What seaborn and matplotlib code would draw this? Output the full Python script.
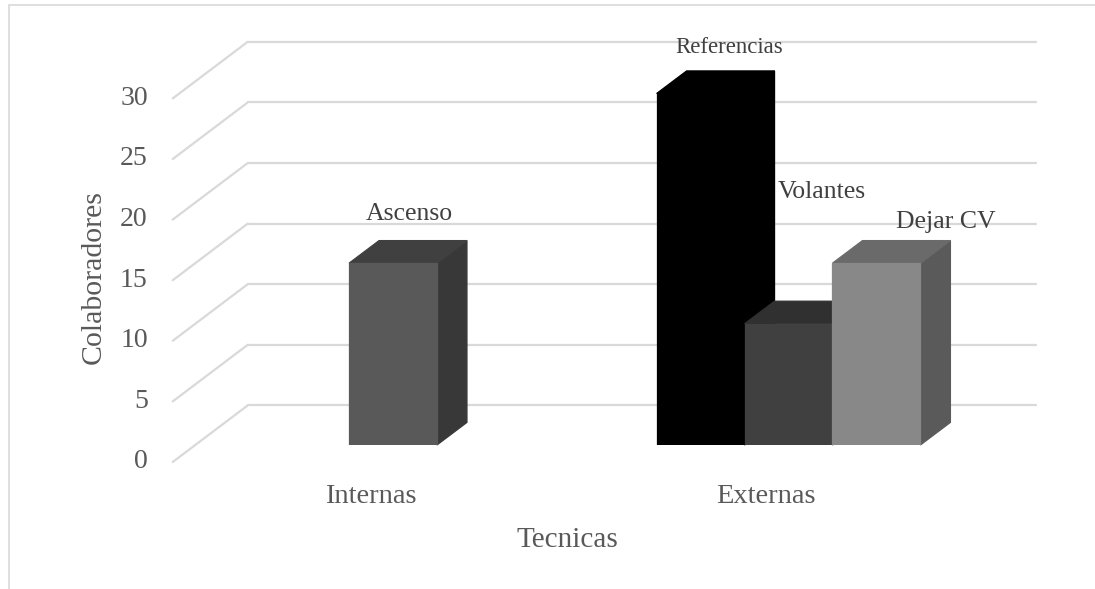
import numpy as np
import pandas as pd
import seaborn as sns
import matplotlib.pyplot as plt
from matplotlib.patches import Polygon, Rectangle
from matplotlib.lines import Line2D

# ---- data -------------------------------------------------------------
tecnicas = ["Internas", "Externas"]
serie_tecnica = ["Internas", "Externas", "Externas", "Externas"]
serie_num = [2, 1, 2, 3]
etiquetas = ["Ascenso", "Referencias", "Volantes", "Dejar CV"]
valores = [15, 29, 10, 15]
y_ticks = [0, 5, 10, 15, 20, 25, 30]

# face shades per bar: front, top, side
color_frente = {"Ascenso": "#595959", "Referencias": "#000000",
                "Volantes": "#404040", "Dejar CV": "#888888"}
color_techo = {"Ascenso": "#404040", "Referencias": "#000000",
               "Volantes": "#303030", "Dejar CV": "#6a6a6a"}
color_lado = {"Ascenso": "#383838", "Referencias": "#000000",
              "Volantes": "#2c2c2c", "Dejar CV": "#5a5a5a"}

df = pd.DataFrame({"Tecnica": serie_tecnica, "Serie": serie_num,
                   "Etiqueta": etiquetas, "Colaboradores": valores})

# ---- style ------------------------------------------------------------
sns.set_theme(style="white")
plt.rcParams["font.family"] = ["Liberation Serif", "DejaVu Serif"]
TXT = "#595959"
GRID = "#d9d9d9"

DPI = 100
fig = plt.figure(figsize=(10.95, 5.89), dpi=DPI)
fig.patch.set_facecolor("white")

# axes = front plane of the bars
ax = fig.add_axes([0.1783, 0.2445, 0.7224, 0.6173])
ax.set_facecolor("none")

series = [1, 2, 3]
sns.barplot(data=df, x="Tecnica", y="Colaboradores", hue="Serie",
            order=tecnicas, hue_order=series, palette=["#000000"] * 3,
            width=0.667, errorbar=None, saturation=1, linewidth=0,
            legend=False, ax=ax)

ax.set_xlim(-0.5, 1.5)
ax.set_ylim(0, 30)
for s in ax.spines.values():
    s.set_visible(False)
ax.set_xticks([])
ax.set_yticks([])

# pseudo-3D offsets in pixels (x right, y up)
DEPTH = (30.0, 22.6)      # bar front -> bar back
FRONT = (-22.5, -17.0)    # bar front -> floor front edge
BACK = (52.5, 39.6)       # bar front -> back wall
WALL_TRIM = -3.0          # back wall ends a little short on the right


def shift(x, y, d):
    disp = ax.transData.transform((x, y)) + np.array(d)
    return ax.transData.inverted().transform(disp)


# back wall gridlines and floor diagonals
x_left, x_right = ax.get_xlim()
for v in y_ticks:
    p0 = shift(x_left, v, BACK)
    p1 = shift(x_right, v, (BACK[0] + WALL_TRIM, BACK[1]))
    pf = shift(x_left, v, FRONT)
    ax.add_line(Line2D([p0[0], p1[0]], [p0[1], p1[1]], color=GRID,
                       lw=1.6, zorder=0.5, clip_on=False))
    ax.add_line(Line2D([pf[0], p0[0]], [pf[1], p0[1]], color=GRID,
                       lw=1.6, zorder=0.5, clip_on=False))
    ax.annotate(str(v), xy=(pf[0], pf[1]), xytext=(-25 * 0.72, 0),
                textcoords="offset points", ha="right", va="center",
                fontsize=20, color=TXT, annotation_clip=False)

# category labels along the floor front edge
for i, t in enumerate(tecnicas):
    p = shift(i, 0, FRONT)
    ax.annotate(t, xy=(p[0], p[1]), xytext=(0, -35 * 0.72),
                textcoords="offset points", ha="center", va="center",
                fontsize=20.5, color=TXT, annotation_clip=False)

# data label placement (offset from front-top centre, pixels) and size
lbl_off = {"Ascenso": (16, 49), "Referencias": (29, 46.5),
           "Volantes": (33.5, 132), "Dejar CV": (69, 41)}
lbl_size = {"Ascenso": 18.5, "Referencias": 16.5,
            "Volantes": 18.5, "Dejar CV": 18.5}

# give bars their faces, left to right
bars = []
for cont, serie in zip(ax.containers, series):
    sub = df[df["Serie"] == serie].copy()
    sub["orden"] = sub["Tecnica"].map({t: i for i, t in enumerate(tecnicas)})
    sub = sub.sort_values("orden")
    for patch, (_, row) in zip(cont, sub.iterrows()):
        bars.append((patch, row))
bars.sort(key=lambda b: b[0].get_x())

FACE_LW = 0.9
for k, (patch, row) in enumerate(bars):
    lab = row["Etiqueta"]
    x0 = patch.get_x()
    x1 = x0 + patch.get_width()
    h = patch.get_height()
    base_z = 2 + k
    patch.set_facecolor(color_frente[lab])
    patch.set_edgecolor(color_frente[lab])
    patch.set_linewidth(FACE_LW)
    patch.set_zorder(base_z + 0.5)
    top = [(x0, h), (x1, h), tuple(shift(x1, h, DEPTH)), tuple(shift(x0, h, DEPTH))]
    side = [(x1, 0), (x1, h), tuple(shift(x1, h, DEPTH)), tuple(shift(x1, 0, DEPTH))]
    ax.add_patch(Polygon(side, closed=True, facecolor=color_lado[lab],
                         edgecolor=color_lado[lab], lw=FACE_LW,
                         zorder=base_z, clip_on=False))
    ax.add_patch(Polygon(top, closed=True, facecolor=color_techo[lab],
                         edgecolor=color_techo[lab], lw=FACE_LW,
                         zorder=base_z + 0.1, clip_on=False))
    dx, dy = lbl_off[lab]
    ax.annotate(lab, xy=((x0 + x1) / 2, h), xytext=(dx * 0.72, dy * 0.72),
                textcoords="offset points", ha="center", va="center",
                fontsize=lbl_size[lab], color="#404040", zorder=20,
                annotation_clip=False)

# axis titles
ax.set_xlabel("Tecnicas", fontsize=21, color=TXT)
ax.xaxis.set_label_coords((567 - 195.25) / 791, (49 - 144) / 363.6)
ax.xaxis.label.set_verticalalignment("center")
ax.set_ylabel("Colaboradores", fontsize=21.5, color=TXT)
ax.yaxis.set_label_coords((94 - 195.25) / 791, (312 - 144) / 363.6)
ax.yaxis.label.set_verticalalignment("center")

# chart area frame
fig.add_artist(Rectangle((8.5 / 1095, -0.1), 1.2, 1.1 - 5.5 / 589,
                         transform=fig.transFigure, fill=False,
                         edgecolor=GRID, lw=1.2))

fig.savefig("out.png", dpi=DPI, facecolor="white")
